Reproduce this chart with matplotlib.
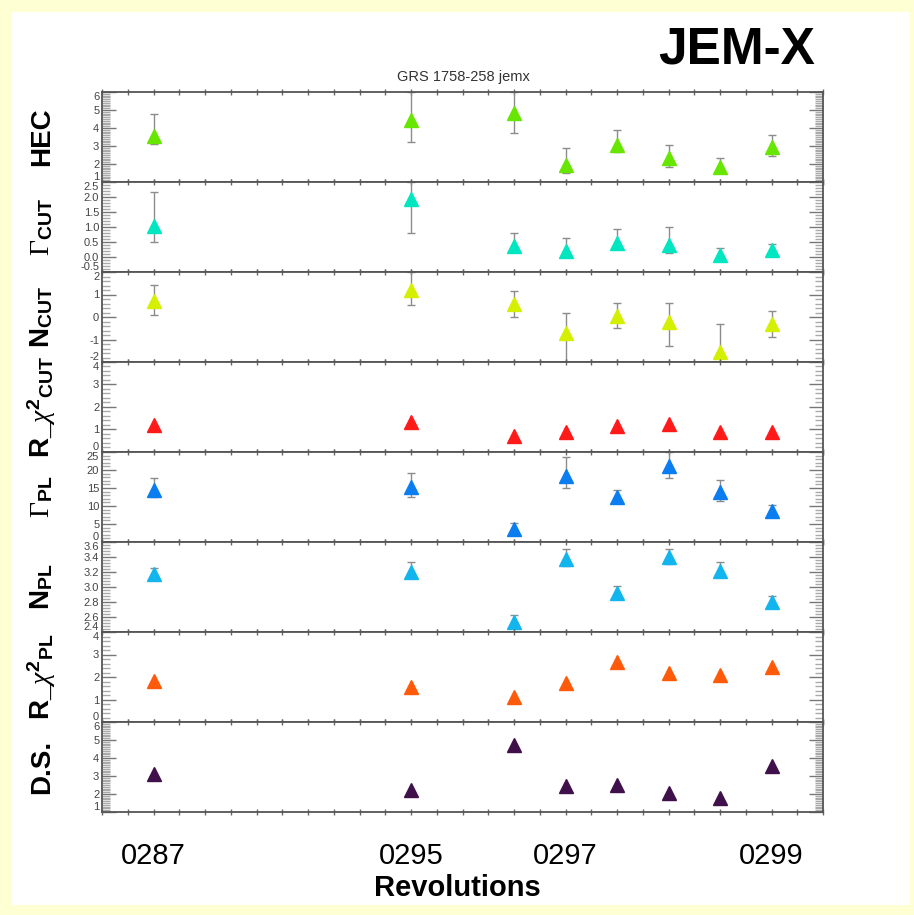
import matplotlib
matplotlib.use('Agg')
import matplotlib.pyplot as plt
from matplotlib.ticker import MultipleLocator, FixedLocator, NullFormatter
from matplotlib.patches import Rectangle

plt.rcParams['font.family'] = ['Liberation Sans', 'DejaVu Sans']
plt.rcParams['mathtext.fontset'] = 'custom'
plt.rcParams['mathtext.rm'] = 'Liberation Serif'
plt.rcParams['mathtext.it'] = 'Liberation Serif:italic'
plt.rcParams['mathtext.bf'] = 'Liberation Sans:bold'
plt.rcParams['mathtext.sf'] = 'Liberation Sans'

# ---------------- data ----------------
rev_pos = [0, 5, 7, 8, 9, 10, 11, 12]
rev_tick_pos = [0, 5, 8, 12]
rev_tick_labels = ['0287', '0295', '0297', '0299']

hec = [3.55, 4.45, 4.85, 1.95, 3.05, 2.35, 1.85, 2.95]
hec_hi = [4.8, 6.0, 6.0, 2.9, 3.9, 3.05, 2.35, 3.6]
hec_lo = [3.1, 3.2, 3.7, 1.5, 2.65, 1.85, 1.5, 2.45]

gcut = [1.03, 1.93, 0.37, 0.2, 0.47, 0.4, 0.07, 0.23]
gcut_hi = [2.17, 2.5, 0.8, 0.63, 0.93, 1.0, 0.3, 0.43]
gcut_lo = [0.5, 0.8, 0.17, 0.0, 0.27, 0.13, -0.1, 0.1]

ncut = [0.7, 1.19, 0.57, -0.69, 0.03, -0.24, -1.54, -0.29]
ncut_hi = [1.42, 2.0, 1.15, 0.2, 0.61, 0.61, -0.33, 0.25]
ncut_lo = [0.07, 0.52, 0.0, -2.0, -0.51, -1.27, -2.0, -0.91]

rchi_cut = [1.22, 1.35, 0.7, 0.91, 1.17, 1.26, 0.91, 0.91]

gpl = [14.4, 15.3, 3.6, 18.3, 12.5, 21.1, 13.9, 8.6]
gpl_hi = [17.8, 19.2, 5.3, 23.6, 14.4, 25.0, 17.2, 10.3]
gpl_lo = [12.5, 12.5, 2.8, 15.0, 11.1, 17.8, 11.4, 7.5]

npl = [3.17, 3.2, 2.53, 3.37, 2.92, 3.4, 3.21, 2.8]
npl_hi = [3.25, 3.33, 2.63, 3.51, 3.01, 3.51, 3.33, 2.88]
npl_lo = [3.11, 3.13, 2.47, 3.28, 2.85, 3.31, 3.13, 2.73]

rchi_pl = [1.84, 1.57, 1.12, 1.75, 2.65, 2.16, 2.07, 2.43]

ds = [3.11, 2.22, 4.72, 2.44, 2.5, 2.06, 1.78, 3.56]

# ---------------- panels ----------------
panels = [
    dict(label='HEC', y=hec, hi=hec_hi, lo=hec_lo, color='#66E600',
         ylim=(1, 6), major=1, minor=0.1, fmt='{:.0f}'),
    dict(label=r'$\mathrm{\Gamma}_{\mathbf{CUT}}$', y=gcut, hi=gcut_hi, lo=gcut_lo,
         color='#00E6C0', ylim=(-0.5, 2.5), major=0.5, minor=0.1, fmt='{:.1f}'),
    dict(label=r'$\mathbf{N}_{\mathbf{CUT}}$', y=ncut, hi=ncut_hi, lo=ncut_lo,
         color='#D4F000', ylim=(-2, 2), major=1, minor=0.2, fmt='{:.0f}'),
    dict(label=r'$\mathbf{R\_}\chi^{\mathbf{2}}{}_{\mathbf{CUT}}$', y=rchi_cut, hi=None, lo=None,
         color='#FF1A1A', ylim=(0, 4), major=1, minor=0.2, fmt='{:.0f}'),
    dict(label=r'$\mathrm{\Gamma}_{\mathbf{PL}}$', y=gpl, hi=gpl_hi, lo=gpl_lo,
         color='#0A7DF0', ylim=(0, 25), major=5, minor=1, fmt='{:.0f}'),
    dict(label=r'$\mathbf{N}_{\mathbf{PL}}$', y=npl, hi=npl_hi, lo=npl_lo,
         color='#12B5EE', ylim=(2.4, 3.6), major=0.2, minor=0.04, fmt='{:.1f}'),
    dict(label=r'$\mathbf{R\_}\chi^{\mathbf{2}}{}_{\mathbf{PL}}$', y=rchi_pl, hi=None, lo=None,
         color='#FF5A0A', ylim=(0, 4), major=1, minor=0.2, fmt='{:.0f}'),
    dict(label='D.S.', y=ds, hi=None, lo=None,
         color='#40104A', ylim=(1, 6), major=1, minor=0.1, fmt='{:.0f}'),
]

W, H = 914, 915
fig = plt.figure(figsize=(W / 100, H / 100), dpi=100)
fig.patch.set_facecolor('#FFFFD4')
fig.patches.append(Rectangle((12 / W, 10 / H), (910 - 12) / W, (903 - 10) / H,
                             transform=fig.transFigure, facecolor='white',
                             edgecolor='none', zorder=-10))

left_px, right_px = 102, 823
top_px, bottom_px = 92, 812
ph = (bottom_px - top_px) / 8.0
spine_col = '#555555'

for i, p in enumerate(panels):
    y0 = top_px + i * ph
    ax = fig.add_axes([left_px / W, 1 - (y0 + ph) / H, (right_px - left_px) / W, ph / H])
    ax.set_xlim(-1, 13)
    ax.set_ylim(*p['ylim'])
    if p['hi'] is not None:
        yerr = [[v - l for v, l in zip(p['y'], p['lo'])],
                [h - v for v, h in zip(p['y'], p['hi'])]]
        ax.errorbar(rev_pos, p['y'], yerr=yerr, fmt='none', ecolor='#8C8C8C',
                    elinewidth=1.0, capsize=3, capthick=1.0, zorder=2)
    ax.plot(rev_pos, p['y'], linestyle='none', marker='^', markersize=9.5,
            color=p['color'], markeredgecolor=p['color'], zorder=3)

    for s in ax.spines.values():
        s.set_color(spine_col)
        s.set_linewidth(1.3)

    lo, hi = p['ylim']
    n = int(round((hi - lo) / p['major']))
    yt = [lo + k * p['major'] for k in range(n + 1)]
    ax.yaxis.set_major_locator(FixedLocator(yt))
    labels = ax.set_yticklabels([p['fmt'].format(v) for v in yt])
    labels[0].set_va('bottom')
    labels[-1].set_va('top')
    ax.yaxis.set_minor_locator(MultipleLocator(p['minor']))
    ax.tick_params(axis='y', which='major', direction='in', length=10, width=1.0,
                   colors='#777777', labelcolor='#444444', labelsize=8,
                   left=True, right=True, pad=2)
    ax.tick_params(axis='y', which='minor', direction='in', length=6, width=1.0,
                   colors='#AAAAAA', left=True, right=True)

    ax.xaxis.set_minor_locator(MultipleLocator(0.5))
    ax.set_xticks(rev_tick_pos)
    if i == len(panels) - 1:
        ax.set_xticklabels(rev_tick_labels)
        ax.tick_params(axis='x', which='major', labelsize=21, pad=19)
    else:
        ax.xaxis.set_major_formatter(NullFormatter())
    ax.tick_params(axis='x', which='both', direction='inout', length=5, width=1.0,
                   colors='#666666', top=True, bottom=True)
    ax.tick_params(axis='x', which='major', labelcolor='black')

    fig.text(42 / W, 1 - (y0 + ph / 2) / H, p['label'], rotation=90,
             ha='center', va='center', fontsize=20, fontweight='bold', color='black')

fig.text(463 / W, 1 - 77 / H, 'GRS 1758-258 jemx', ha='center', va='center',
         fontsize=10.5, color='#333333')
fig.text(737 / W, 1 - 50 / H, 'JEM-X', ha='center', va='center',
         fontsize=37, fontweight='bold', color='black')
fig.text(457 / W, 1 - 888 / H, 'Revolutions', ha='center', va='center',
         fontsize=21, fontweight='bold', color='black')

fig.savefig('out.png', dpi=100, facecolor=fig.get_facecolor())
